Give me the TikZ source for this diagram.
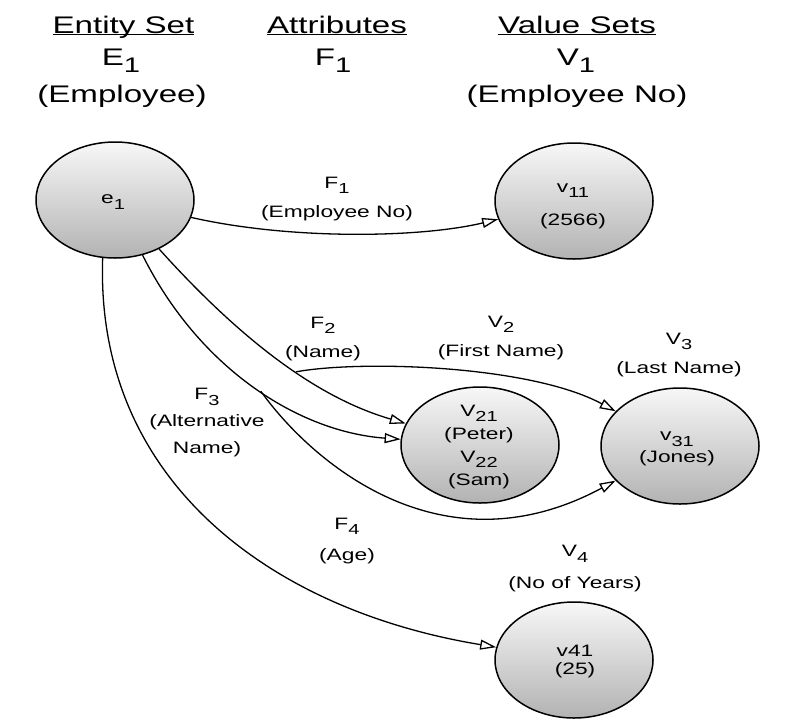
\documentclass[tikz,border=0pt]{standalone}
\usepackage{fontspec}
\setmainfont{Liberation Sans}[FakeStretch=1.38]
\usepackage{graphicx}
\usetikzlibrary{arrows.meta,shapes.geometric}
\newcommand\subx[1]{\raisebox{-0.33em}{\scalebox{0.88}{#1}}}
\newcommand\ulx[1]{\setbox0\hbox{#1}\rlap{\rule[-2.4pt]{\wd0}{1.5pt}}\box0}
\begin{document}
\begin{tikzpicture}[x=1pt,y=-1pt,
  hdr/.style={font=\fontsize{24}{28}\selectfont, anchor=base, inner sep=0pt},
  lab/.style={font=\fontsize{16.5}{29}\selectfont, align=center, inner sep=0pt},
  entity/.style={ellipse, draw, line width=1.5pt, minimum width=158pt, minimum height=116pt, inner sep=0pt, top color=black!3, bottom color=black!30},
  conn/.style={line width=1.3pt, -{Triangle[open,length=16pt,width=10pt,line width=1.3pt]}}]
\useasboundingbox (0,0) rectangle (803,721);
% headers
\node[hdr] (h1) at (123.5,33) {\ulx{Entity Set}};
\node[hdr] (h2) at (337,33) {\ulx{Attributes}};
\node[hdr] (h3) at (577,33) {\ulx{Value Sets}};
\node[hdr] (h1b) at (121,65) {E\subx{1}};
\node[hdr] (h2b) at (333,65) {F\subx{1}};
\node[hdr] (h3b) at (576,65) {V\subx{1}};
\node[hdr] (h1c) at (122,102) {(Employee)};
\node[hdr] (h3c) at (577,102) {(Employee No)};
% ellipses
\node[entity] (e1) at (115,200) {};
\node[entity] (v11) at (574,201) {};
\node[entity] (v21) at (480,445) {};
\node[entity] (v31) at (680,446) {};
\node[entity] (v41) at (574,660) {};
% ellipse texts
\node[lab] (te1) at (113,202) {e\subx{1}};
\node[lab, font=\fontsize{16.5}{33}\selectfont] (tv11) at (573,206) {v\subx{11}\\(2566)};
\node[lab, font=\fontsize{16.5}{23}\selectfont] (tv21) at (479,447) {V\subx{21}\\(Peter)\\V\subx{22}\\(Sam)};
\node[lab, font=\fontsize{16.5}{22}\selectfont] (tv31) at (677,449) {v\subx{31}\\(Jones)};
\node[lab, font=\fontsize{16.5}{18}\selectfont] (tv41) at (575,662) {v41\\(25)};
% connectors
\draw[conn] (e1) .. controls (290,240) and (420,238) .. (v11);
\draw[conn] (e1) .. controls (250,350) and (325,400) .. node[coordinate,pos=0.54] (b2) {} (v21);
\draw[conn] (b2) .. controls (360,360) and (530,365) .. (v31);
\draw[conn] (e1) .. controls (200,370) and (300,432) .. node[coordinate,pos=0.52] (b3) {} (v21);
\draw[conn] (b3) .. controls (310,460) and (440,575) .. (v31);
\draw[conn] (e1.258) .. controls (95,480) and (270,610) .. (v41);
% connector labels
\node[lab] (lf1) at (337,199) {F\subx{1}\\(Employee No)};
\node[lab] (lf2) at (323,339) {F\subx{2}\\(Name)};
\node[lab] (lv2) at (501,338) {V\subx{2}\\(First Name)};
\node[lab] (lv3) at (679,355) {V\subx{3}\\(Last Name)};
\node[lab, font=\fontsize{16.5}{27}\selectfont] (lf3) at (207,423) {F\subx{3}\\(Alternative\\Name)};
\node[lab, font=\fontsize{16.5}{31}\selectfont] (lf4) at (347,541) {F\subx{4}\\(Age)};
\node[lab, font=\fontsize{16.5}{32}\selectfont] (lv4) at (575,569) {V\subx{4}\\(No of Years)};
\end{tikzpicture}
\end{document}
